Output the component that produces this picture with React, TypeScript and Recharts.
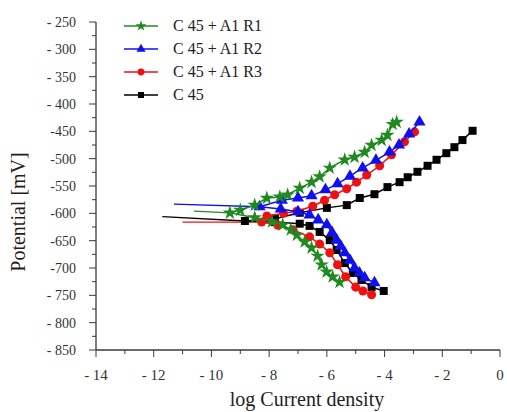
import React from 'react';
import { ScatterChart, Scatter, XAxis, YAxis, ZAxis, Symbols } from 'recharts';

type Pt = { x: number; y: number };

// C 45 + A1 R1 (green)
const r1Cathodic: Pt[] = [
  { x: -9.36, y: -599 }, { x: -8.5, y: -608 }, { x: -7.9, y: -615 }, { x: -7.53, y: -621 },
  { x: -7.25, y: -630 }, { x: -7.04, y: -640 }, { x: -6.77, y: -652 }, { x: -6.53, y: -663 },
  { x: -6.32, y: -678 }, { x: -6.18, y: -694 }, { x: -6.01, y: -707 }, { x: -5.8, y: -716 },
  { x: -5.56, y: -726 },
];
const r1Anodic: Pt[] = [
  { x: -9.0, y: -594 }, { x: -8.5, y: -585 }, { x: -8.08, y: -572 }, { x: -7.63, y: -570 },
  { x: -7.36, y: -566 }, { x: -6.94, y: -554 }, { x: -6.53, y: -543 }, { x: -6.25, y: -533 },
  { x: -5.9, y: -517 }, { x: -5.38, y: -502 }, { x: -5.04, y: -497 }, { x: -4.69, y: -488 },
  { x: -4.45, y: -475 }, { x: -4.1, y: -466 }, { x: -3.9, y: -457 }, { x: -3.72, y: -437 },
  { x: -3.58, y: -433 },
];
const r1Spike: Pt[] = [{ x: -9.36, y: -599 }, { x: -10.6, y: -596 }];

// C 45 + A1 R2 (blue)
const r2Cathodic: Pt[] = [
  { x: -8.33, y: -588 }, { x: -7.6, y: -592 }, { x: -7.0, y: -597 }, { x: -6.6, y: -603 },
  { x: -6.3, y: -612 }, { x: -6.0, y: -621 }, { x: -5.82, y: -635 }, { x: -5.66, y: -649 },
  { x: -5.52, y: -660 }, { x: -5.38, y: -672 }, { x: -5.2, y: -686 }, { x: -5.04, y: -700 },
  { x: -4.87, y: -709 }, { x: -4.69, y: -718 }, { x: -4.35, y: -727 },
];
const r2Anodic: Pt[] = [
  { x: -7.56, y: -576 }, { x: -7.0, y: -572 }, { x: -6.53, y: -568 }, { x: -6.05, y: -557 },
  { x: -5.63, y: -546 }, { x: -5.2, y: -532 }, { x: -4.76, y: -517 }, { x: -4.3, y: -503 },
  { x: -3.83, y: -488 }, { x: -3.5, y: -475 }, { x: -3.15, y: -455 }, { x: -2.79, y: -433 },
];
const r2Spike: Pt[] = [{ x: -8.33, y: -588 }, { x: -11.3, y: -583 }];

// C 45 + A1 R3 (red)
const r3Cathodic: Pt[] = [
  { x: -8.26, y: -616 }, { x: -7.7, y: -622 }, { x: -7.18, y: -630 }, { x: -6.6, y: -643 },
  { x: -6.25, y: -656 }, { x: -5.9, y: -672 }, { x: -5.63, y: -694 }, { x: -5.35, y: -716 },
  { x: -5.0, y: -735 }, { x: -4.75, y: -742 }, { x: -4.45, y: -749 },
];
const r3Anodic: Pt[] = [
  { x: -8.08, y: -605 }, { x: -7.5, y: -600 }, { x: -7.04, y: -596 }, { x: -6.49, y: -587 },
  { x: -6.08, y: -576 }, { x: -5.73, y: -566 }, { x: -5.31, y: -555 }, { x: -4.97, y: -543 },
  { x: -4.62, y: -530 }, { x: -4.17, y: -513 }, { x: -3.76, y: -493 }, { x: -3.31, y: -469 },
  { x: -2.96, y: -451 },
];
const r3Spike: Pt[] = [{ x: -8.26, y: -616 }, { x: -11.0, y: -616 }];

// C 45 (black)
const c45Cathodic: Pt[] = [
  { x: -8.84, y: -614 }, { x: -7.8, y: -616 }, { x: -6.94, y: -619 }, { x: -6.6, y: -623 },
  { x: -6.25, y: -634 }, { x: -5.9, y: -649 }, { x: -5.66, y: -667 }, { x: -5.38, y: -691 },
  { x: -5.1, y: -709 }, { x: -4.8, y: -722 }, { x: -4.45, y: -735 }, { x: -4.03, y: -742 },
];
const c45Anodic: Pt[] = [
  { x: -7.8, y: -610 }, { x: -6.94, y: -599 }, { x: -6.0, y: -590 }, { x: -5.31, y: -585 },
  { x: -4.86, y: -572 }, { x: -4.35, y: -565 }, { x: -3.9, y: -552 }, { x: -3.48, y: -543 },
  { x: -3.2, y: -534 }, { x: -2.86, y: -524 }, { x: -2.51, y: -513 }, { x: -2.2, y: -502 },
  { x: -1.86, y: -490 }, { x: -1.58, y: -479 }, { x: -1.3, y: -466 }, { x: -0.95, y: -449 },
];
const c45Spike: Pt[] = [{ x: -8.84, y: -614 }, { x: -11.7, y: -606 }];

const X_MAJOR = [-14, -12, -10, -8, -6, -4, -2, 0];
const X_LABELS = ['- 14', '- 12', '- 10', '- 8', '- 6', '- 4', '- 2', '0'];
const X_MINOR = [-13, -11, -9, -7, -5, -3, -1];

const Y_MAJOR = [-250, -300, -350, -400, -450, -500, -550, -600, -650, -700, -750, -800, -850];
const Y_LABELS = ['- 250', '- 300', '- 350', '- 400', '-450', '-500', '-550', '-600', '-650', '-700', '- 750', '- 800', '- 850'];
const Y_MINOR = [-275, -325, -375, -425, -475, -525, -575, -625, -675, -725, -775, -825];

const FONT = '"Liberation Serif", "Times New Roman", serif';
const AXIS = '#3a3a3a';

const SERIES = [
  { name: 'C 45 + A1 R1', color: '#1f8a1f', shape: 'star' as const },
  { name: 'C 45 + A1 R2', color: '#1010ee', shape: 'triangle' as const },
  { name: 'C 45 + A1 R3', color: '#ee1111', shape: 'circle' as const },
  { name: 'C 45', color: '#000000', shape: 'square' as const },
];

// cathodic branch listed from Ecorr downward; join bottom -> Ecorr -> top
const join = (cath: Pt[], an: Pt[]) => [...cath].reverse().concat(an);

function XTick({ x, y, payload }: any) {
  const i = X_MAJOR.indexOf(payload.value);
  const major = i >= 0;
  return (
    <g>
      <line x1={x} x2={x} y1={y} y2={y + (major ? 7 : 4)} stroke={AXIS} />
      {major && (
        <text x={x} y={y + 30} textAnchor="middle" fontSize={15} fontFamily={FONT} fill="#333">
          {X_LABELS[i]}
        </text>
      )}
    </g>
  );
}

function YTick({ x, y, payload }: any) {
  const i = Y_MAJOR.indexOf(payload.value);
  const major = i >= 0;
  return (
    <g>
      <line x1={x - (major ? 7 : 4)} x2={x} y1={y} y2={y} stroke={AXIS} />
      {major && (
        <text x={x - 20} y={y} dy="0.35em" textAnchor="end" fontSize={14} fontFamily={FONT} fill="#333">
          {Y_LABELS[i]}
        </text>
      )}
    </g>
  );
}

function YTitle() {
  return (
    <text
      x={18}
      y={212}
      transform="rotate(-90 18 212)"
      textAnchor="middle"
      dominantBaseline="central"
      fontSize={20}
      fontFamily={FONT}
      fill="#2a1a1a"
    >
      Potential [mV]
    </text>
  );
}

function ChartLegend() {
  return (
    <div style={{ position: 'absolute', left: 124, top: 14, fontFamily: FONT, fontSize: 16 }}>
      {SERIES.map((s) => (
        <div key={s.name} style={{ display: 'flex', alignItems: 'center', height: 23 }}>
          <svg width={34} height={12}>
            <line x1={0} x2={34} y1={6} y2={6} stroke={s.color} strokeWidth={1.5} />
            <Symbols cx={17} cy={6} type={s.shape} size={36} fill={s.color} />
          </svg>
          <span style={{ marginLeft: 15, color: '#222' }}>{s.name}</span>
        </div>
      ))}
    </div>
  );
}

const nothing = () => <g />;

export default function App() {
  const main = [
    { data: join(c45Cathodic, c45Anodic), spike: c45Spike, s: SERIES[3] },
    { data: join(r3Cathodic, r3Anodic), spike: r3Spike, s: SERIES[2] },
    { data: join(r2Cathodic, r2Anodic), spike: r2Spike, s: SERIES[1] },
    { data: join(r1Cathodic, r1Anodic), spike: r1Spike, s: SERIES[0] },
  ];
  return (
    <div style={{ position: 'absolute', left: 0, top: 0, width: 507, height: 412, background: '#fff' }}>
      <ScatterChart width={507} height={412} margin={{ top: 22, right: 7, bottom: 0, left: 0 }}>
        <XAxis
          type="number"
          dataKey="x"
          domain={[-14, 0]}
          ticks={[...X_MAJOR, ...X_MINOR].sort((a, b) => a - b)}
          interval={0}
          height={62}
          tickLine={false}
          tickSize={0}
          tickMargin={0}
          axisLine={{ stroke: AXIS, strokeWidth: 1.3 }}
          tick={<XTick />}
          label={{
            value: 'log Current density',
            position: 'insideBottom',
            offset: 6,
            dx: 9,
            style: { fontSize: 20, fontFamily: FONT, fill: '#222' },
          }}
        />
        <YAxis
          type="number"
          dataKey="y"
          domain={[-850, -250]}
          ticks={[...Y_MAJOR, ...Y_MINOR].sort((a, b) => a - b)}
          interval={0}
          width={96}
          tickLine={false}
          tickSize={0}
          tickMargin={0}
          axisLine={{ stroke: AXIS, strokeWidth: 1.3 }}
          tick={<YTick />}
          label={<YTitle />}
        />
        <ZAxis range={[34, 34]} />
        {main.map(({ spike, s }) => (
          <Scatter
            key={s.name + '-spike'}
            data={spike}
            line={{ stroke: s.color, strokeWidth: 1.3 }}
            shape={nothing}
            isAnimationActive={false}
          />
        ))}
        {main.map(({ data, s }) => (
          <Scatter
            key={s.name}
            name={s.name}
            data={data}
            fill={s.color}
            line={{ stroke: s.color, strokeWidth: 1.5 }}
            shape={s.shape}
            isAnimationActive={false}
          />
        ))}
      </ScatterChart>
      <ChartLegend />
    </div>
  );
}
